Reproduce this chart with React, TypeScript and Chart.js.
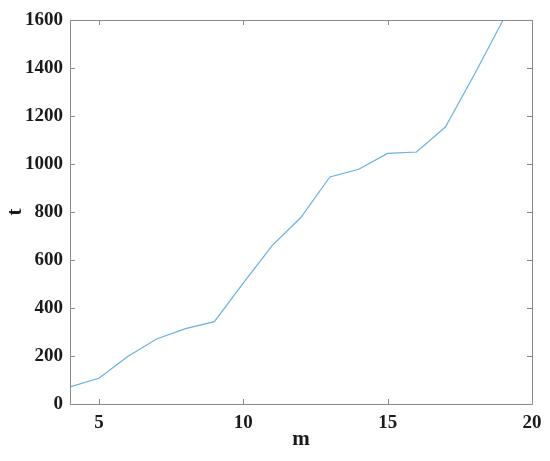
import React, { useEffect, useRef } from "react";
import { Chart, registerables } from "chart.js";

Chart.register(...registerables);

const mValues = [4, 5, 6, 7, 8, 9, 10, 11, 12, 13, 14, 15, 16, 17, 18, 19];
const tValues = [71, 107, 198, 271, 314, 343, 504, 660, 778, 946, 978, 1044, 1050, 1154, 1372, 1600];
const xTicks = [5, 10, 15, 20];
const yTicks = [0, 200, 400, 600, 800, 1000, 1200, 1400, 1600];

const FONT = "'Liberation Serif', 'Times New Roman', serif";

const boxPlugin = {
  id: "boxTicks",
  afterDraw(chart: any) {
    const { ctx, chartArea: a, scales } = chart;
    ctx.save();
    ctx.strokeStyle = "#8a8a8a";
    ctx.lineWidth = 1;
    ctx.beginPath();
    ctx.rect(Math.round(a.left) + 0.5, Math.round(a.top) + 0.5, Math.round(a.right - a.left), Math.round(a.bottom - a.top));
    ctx.stroke();
    const tl = 5;
    ctx.beginPath();
    for (const v of xTicks) {
      const x = Math.round(scales.x.getPixelForValue(v)) + 0.5;
      ctx.moveTo(x, a.bottom);
      ctx.lineTo(x, a.bottom - tl);
      ctx.moveTo(x, a.top);
      ctx.lineTo(x, a.top + tl);
    }
    for (const v of yTicks) {
      const y = Math.round(scales.y.getPixelForValue(v)) + 0.5;
      ctx.moveTo(a.left, y);
      ctx.lineTo(a.left + tl, y);
      ctx.moveTo(a.right, y);
      ctx.lineTo(a.right - tl, y);
    }
    ctx.stroke();
    ctx.restore();
  },
};

export default function App() {
  const ref = useRef<HTMLCanvasElement | null>(null);
  useEffect(() => {
    document.body.style.margin = "0";
    const chart = new Chart(ref.current!, {
      type: "line",
      data: {
        datasets: [
          {
            data: mValues.map((m, i) => ({ x: m, y: tValues[i] })),
            borderColor: "#66b2e6",
            borderWidth: 1.2,
            pointRadius: 0,
            tension: 0,
            fill: false,
          },
        ],
      },
      options: {
        animation: false,
        responsive: false,
        layout: { padding: { top: 20, right: 18, left: 0, bottom: 0 } },
        plugins: { legend: { display: false }, tooltip: { enabled: false } },
        scales: {
          x: {
            type: "linear",
            min: 4,
            max: 20,
            afterBuildTicks: (s: any) => {
              s.ticks = xTicks.map((v) => ({ value: v }));
            },
            afterFit: (s: any) => {
              s.height = 57;
            },
            grid: { display: false, drawTicks: false },
            border: { display: false },
            ticks: {
              color: "#1a1a1a",
              font: { family: FONT, size: 19, weight: "bold" },
              padding: 8,
              maxRotation: 0,
              callback: (v: any) => String(v),
            },
            title: {
              display: true,
              text: "m",
              color: "#1a1a1a",
              font: { family: FONT, size: 21, weight: "bold" },
              padding: { top: 0, bottom: 9 },
            },
          },
          y: {
            type: "linear",
            min: 0,
            max: 1600,
            afterBuildTicks: (s: any) => {
              s.ticks = yTicks.map((v) => ({ value: v }));
            },
            afterFit: (s: any) => {
              s.width = 70;
            },
            grid: { display: false, drawTicks: false },
            border: { display: false },
            ticks: {
              color: "#1a1a1a",
              font: { family: FONT, size: 19, weight: "bold" },
              padding: 7,
              callback: (v: any) => String(v),
            },
            title: {
              display: true,
              text: "t",
              color: "#1a1a1a",
              font: { family: FONT, size: 21, weight: "bold" },
              padding: { top: 3, bottom: 0 },
            },
          },
        },
      },
      plugins: [boxPlugin],
    } as any);
    return () => chart.destroy();
  }, []);
  return (
    <div style={{ width: 550, height: 461, background: "#fff" }}>
      <canvas ref={ref} width={550} height={461} />
    </div>
  );
}
